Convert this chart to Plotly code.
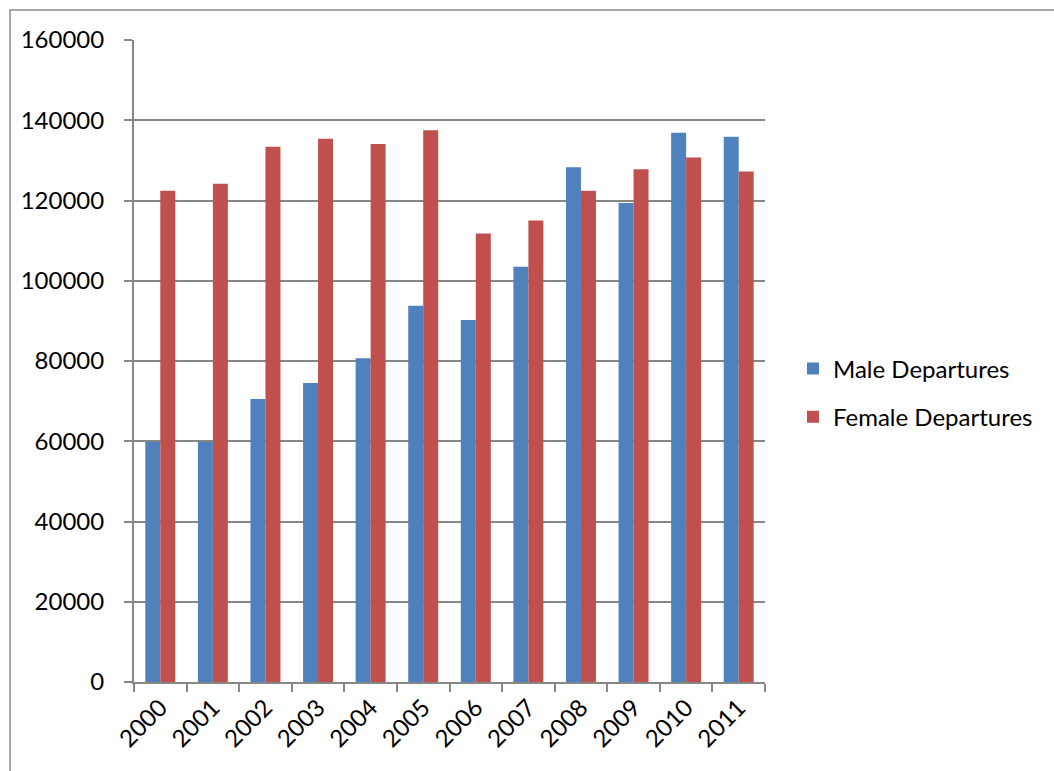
import plotly.graph_objects as go

years = ["2000", "2001", "2002", "2003", "2004", "2005",
         "2006", "2007", "2008", "2009", "2010", "2011"]
male_departures = [59800, 59800, 70500, 74500, 80700, 93800,
                   90200, 103500, 128300, 119400, 136900, 135900]
female_departures = [122400, 124200, 133400, 135400, 134100, 137500,
                     111800, 115000, 122400, 127800, 130700, 127200]
y_ticks = [0, 20000, 40000, 60000, 80000, 100000, 120000, 140000, 160000]

BLUE = "#4F81BD"
RED = "#C0504D"
GRID = "#878787"
FONT = "Lato, 'Open Sans', sans-serif"

fig = go.Figure()
fig.add_trace(go.Bar(x=years, y=male_departures, name="Male Departures",
                     marker=dict(color=BLUE, line=dict(width=0)),
                     legendgroup="m"))
fig.add_trace(go.Bar(x=years, y=female_departures, name="Female Departures",
                     marker=dict(color=RED, line=dict(width=0)),
                     legendgroup="f"))

# plot area occupies roughly x 134..765, y 40..682 of a 1054x771 page
L, R, T, B = 134, 1054 - 765, 40, 771 - 682
W = 1054 - L - R
H = 771 - T - B

def px(xp):
    return (xp - L) / W

def py(yp):
    return (771 - B - yp) / H

fig.update_layout(
    width=1054, height=771,
    margin=dict(l=L, r=R, t=T, b=B, autoexpand=False),
    paper_bgcolor="white", plot_bgcolor="white",
    barmode="group", bargap=0.43, bargroupgap=0,
    font=dict(family=FONT, size=24, color="black"),
    showlegend=True,
    legend=dict(x=px(793), y=py(393), xanchor="left", yanchor="middle",
                font=dict(size=24, family=FONT), tracegroupgap=14,
                bgcolor="rgba(0,0,0,0)", itemwidth=30),
    xaxis=dict(type="category", tickangle=-45, showgrid=False,
               showline=True, linecolor=GRID, linewidth=2,
               ticks="outside", tickson="boundaries", ticklen=8,
               tickcolor=GRID, tickwidth=2,
               tickfont=dict(size=24, family=FONT)),
    yaxis=dict(range=[0, 160000], tickvals=y_ticks,
               ticktext=[str(v) for v in y_ticks],
               showgrid=True, gridcolor=GRID, gridwidth=2,
               showline=True, linecolor=GRID, linewidth=2,
               ticks="outside", ticklen=8, tickcolor=GRID, tickwidth=2,
               ticklabelstandoff=15, zeroline=False,
               tickfont=dict(size=24, family=FONT)),
    shapes=[dict(type="rect", xref="paper", yref="paper",
                 x0=px(10), y0=py(790), x1=px(1070), y1=py(10),
                 line=dict(color="#8A8A8A", width=1.5),
                 fillcolor="rgba(0,0,0,0)", layer="below")],
)

fig.write_html("out.html")
